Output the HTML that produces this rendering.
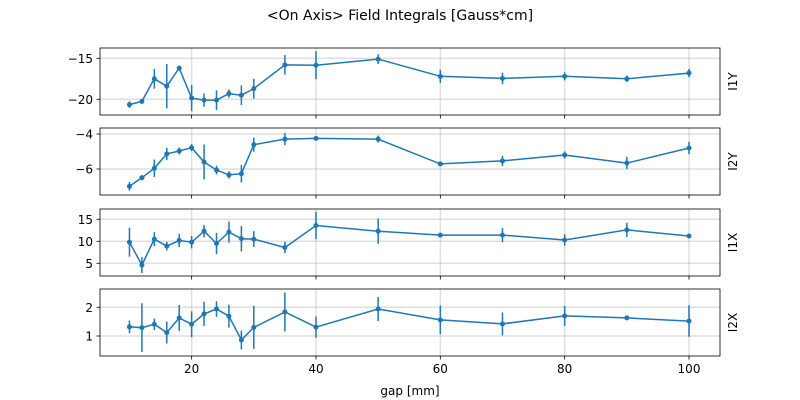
<!DOCTYPE html>
<html><head><meta charset="utf-8"><style>body{margin:0;background:#fff}svg{display:block}text{font-family:"DejaVu Sans","Liberation Sans",sans-serif;fill:#000}</style></head>
<body>
<svg id="s" width="800" height="400" xmlns="http://www.w3.org/2000/svg"></svg>
<script>
const xs=[10,12,14,16,18,20,22,24,26,28,30,35,40,50,60,70,80,90,100];
const X=v=>67.3+v*6.217;
const P=[
 {t:48,b:115,y0:-15,p0:58.3,k:8.2,ticks:[-15,-20],lab:'I1Y',
  v:[-20.65,-20.25,-17.5,-18.4,-16.2,-19.85,-20.1,-20.1,-19.3,-19.5,-18.7,-15.8,-15.85,-15.1,-17.2,-17.45,-17.2,-17.5,-16.8],
  e:[.4,.3,1.2,2.7,.3,1.6,.8,1.2,.5,1.2,1.2,1.2,1.7,.6,.8,.7,.5,.4,.5]},
 {t:128,b:195,y0:-4,p0:134,k:17.5,ticks:[-4,-6],lab:'I2Y',
  v:[-6.99,-6.5,-5.96,-5.14,-4.97,-4.78,-5.6,-6.06,-6.34,-6.27,-4.61,-4.29,-4.25,-4.29,-5.71,-5.54,-5.2,-5.66,-4.8],
  e:[.25,.15,.5,.35,.2,.2,1.0,.25,.2,.5,.4,.35,.1,.2,.1,.3,.2,.35,.35]},
 {t:209,b:276,y0:10,p0:241.3,k:4.4,ticks:[15,10,5],lab:'I1X',
  v:[9.8,4.6,10.5,8.9,10.2,9.8,12.3,9.5,12.1,10.6,10.5,8.6,13.6,12.3,11.4,11.4,10.3,12.6,11.2],
  e:[3.3,1.8,1.6,1.0,1.5,1.4,1.4,2.4,2.4,2.9,1.8,1.3,3.1,2.9,.3,1.6,1.3,1.6,.3]},
 {t:289,b:356,y0:1,p0:336,k:28.7,ticks:[2,1],lab:'I2X',
  v:[1.32,1.29,1.41,1.12,1.63,1.41,1.77,1.94,1.69,.86,1.3,1.84,1.31,1.94,1.56,1.42,1.7,1.63,1.52],
  e:[.22,.85,.2,.38,.45,.45,.42,.27,.4,.33,.75,.68,.37,.42,.5,.4,.35,.05,.55]}
];
let h='<text x="400" y="20" font-size="14" text-anchor="middle">&lt;On Axis&gt; Field Integrals [Gauss*cm]</text>';
const c='#1f77b4';
P.forEach((p,i)=>{
 const Y=v=>p.p0-(v-p.y0)*p.k;
 for(const g of [20,40,60,80,100]) h+=`<line x1="${X(g)}" x2="${X(g)}" y1="${p.t}" y2="${p.b}" stroke="#b0b0b0" stroke-opacity=".4" stroke-width="1.5"/>`;
 for(const g of p.ticks){const y=Y(g);h+=`<line x1="100" x2="720" y1="${y}" y2="${y}" stroke="#b0b0b0" stroke-opacity=".4" stroke-width="1.5"/><line x1="96.5" x2="100" y1="${y}" y2="${y}" stroke="#000" stroke-width=".8"/><text x="93" y="${y+4.5}" font-size="12" text-anchor="end">${g<0?'\u2212'+(-g):g}</text>`;}
 let pts=xs.map((x,j)=>X(x).toFixed(1)+','+Y(p.v[j]).toFixed(1)).join(' ');
 xs.forEach((x,j)=>{h+=`<line x1="${X(x)}" x2="${X(x)}" y1="${Y(p.v[j]+p.e[j])}" y2="${Y(p.v[j]-p.e[j])}" stroke="${c}" stroke-width="1.5"/>`;});
 h+=`<polyline points="${pts}" fill="none" stroke="${c}" stroke-width="1.5"/>`;
 xs.forEach((x,j)=>{h+=`<circle cx="${X(x)}" cy="${Y(p.v[j])}" r="2.5" fill="${c}"/>`;});
 h+=`<rect x="100" y="${p.t}" width="620" height="${p.b-p.t}" fill="none" stroke="#000" stroke-width=".8"/>`;
 for(const g of [20,40,60,80,100]) h+=`<line x1="${X(g)}" x2="${X(g)}" y1="${p.b}" y2="${p.b+3.5}" stroke="#000" stroke-width=".8"/>`;
 const my=(p.t+p.b)/2;
 h+=`<text transform="translate(737,${my}) rotate(-90)" font-size="12" text-anchor="middle">${p.lab}</text>`;
 if(i==3) for(const g of [20,40,60,80,100]) h+=`<text x="${X(g)}" y="${p.b+17}" font-size="12" text-anchor="middle">${g}</text>`;
});
h+='<text x="410" y="395" font-size="12" text-anchor="middle">gap [mm]</text>';
document.getElementById('s').innerHTML=h;
</script>
</body></html>
